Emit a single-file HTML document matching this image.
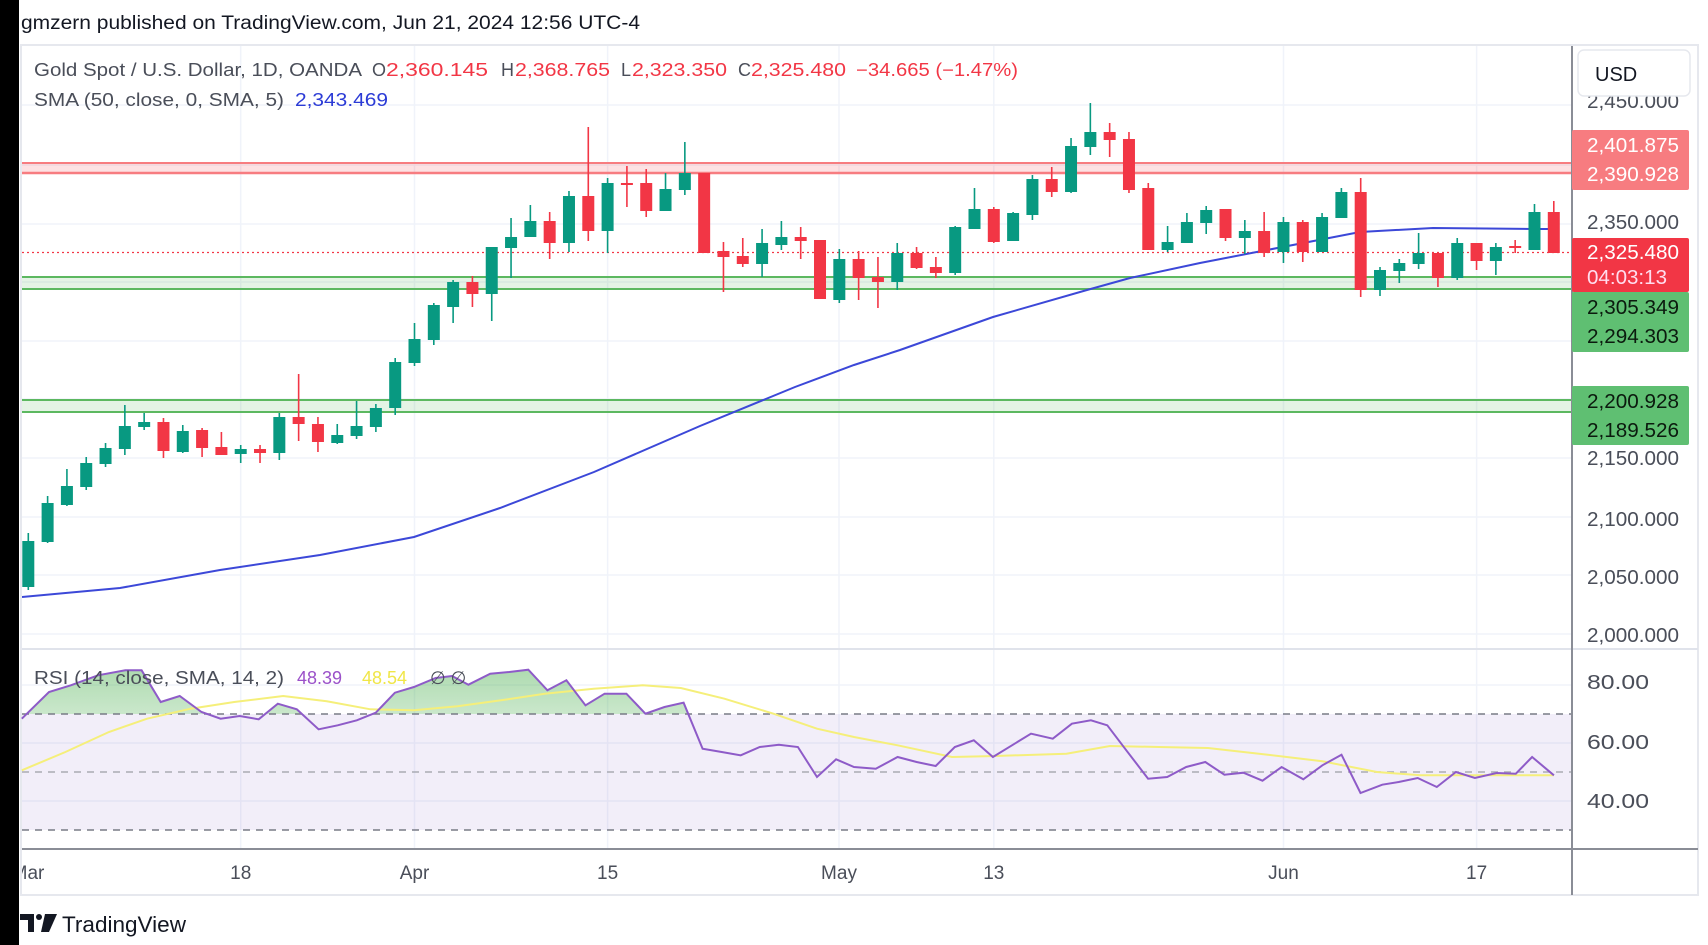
<!DOCTYPE html>
<html><head><meta charset="utf-8"><style>
html,body{margin:0;padding:0;background:#fff;width:1708px;height:945px;overflow:hidden}
svg{display:block;font-family:"Liberation Sans",sans-serif}
</style></head><body>
<svg id="s" width="1708" height="945" viewBox="0 0 1708 945" xmlns="http://www.w3.org/2000/svg">
<defs>
<linearGradient id="gg" x1="0" y1="0" x2="0" y2="1"><stop offset="0" stop-color="#4caf50" stop-opacity="0.45"/><stop offset="1" stop-color="#4caf50" stop-opacity="0.02"/></linearGradient>
<clipPath id="ob"><rect x="22" y="640" width="1550" height="74"/></clipPath>
<clipPath id="plot"><rect x="22" y="46" width="1550" height="602"/></clipPath>
<clipPath id="tax"><rect x="22" y="850" width="1550" height="45"/></clipPath>
</defs>
<rect x="0" y="0" width="1708" height="945" fill="#fff"/>
<rect x="0" y="0" width="19" height="945" fill="#000"/>
<text x="21" y="29" font-size="19" fill="#131722" textLength="619" lengthAdjust="spacingAndGlyphs">gmzern published on TradingView.com, Jun 21, 2024 12:56 UTC-4</text>
<rect x="21" y="45" width="1677" height="850" fill="#fff" stroke="#e6e8ee" stroke-width="2"/>
<g id="grid" stroke="#f0f3fa" stroke-width="1.5"></g>
<rect x="22" y="714" width="1550" height="116" fill="#7e57c2" fill-opacity="0.1"/>
<g id="zones"></g>
<g id="main" clip-path="url(#plot)"></g>
<g id="rsi"></g>
<line x1="22" y1="649" x2="1698" y2="649" stroke="#e0e3eb" stroke-width="2"/>
<line x1="22" y1="849" x2="1698" y2="849" stroke="#8a8d96" stroke-width="2"/>
<line x1="1572" y1="46" x2="1572" y2="895" stroke="#8a8d96" stroke-width="2"/>
<g id="tlab" font-size="19" fill="#4a4e59" text-anchor="middle" clip-path="url(#tax)"></g>
<g font-size="20" fill="#4a4e59">
<text x="1587" y="108" textLength="92" lengthAdjust="spacingAndGlyphs">2,450.000</text>
<rect x="1578" y="50" width="112" height="46" rx="6" fill="#fff" stroke="#e6e8ee" stroke-width="1.5"/>
<text x="1595" y="81" fill="#131722">USD</text>
<text x="1587" y="229" textLength="92" lengthAdjust="spacingAndGlyphs">2,350.000</text>
<text x="1587" y="465" textLength="92" lengthAdjust="spacingAndGlyphs">2,150.000</text>
<text x="1587" y="526" textLength="92" lengthAdjust="spacingAndGlyphs">2,100.000</text>
<text x="1587" y="584" textLength="92" lengthAdjust="spacingAndGlyphs">2,050.000</text>
<text x="1587" y="642" textLength="92" lengthAdjust="spacingAndGlyphs">2,000.000</text>
<text x="1587" y="689" textLength="62" lengthAdjust="spacingAndGlyphs">80.00</text>
<text x="1587" y="749" textLength="62" lengthAdjust="spacingAndGlyphs">60.00</text>
<text x="1587" y="808" textLength="62" lengthAdjust="spacingAndGlyphs">40.00</text>
<rect x="1572" y="130" width="117" height="60" rx="2" fill="#f77c80"/>
<text x="1587" y="152" fill="#fff" textLength="92" lengthAdjust="spacingAndGlyphs">2,401.875</text>
<text x="1587" y="181" fill="#fff" textLength="92" lengthAdjust="spacingAndGlyphs">2,390.928</text>
<rect x="1572" y="238" width="117" height="54" rx="2" fill="#f23645"/>
<text x="1587" y="259" fill="#fff" textLength="92" lengthAdjust="spacingAndGlyphs">2,325.480</text>
<text x="1587" y="284" fill="#fde" textLength="80" lengthAdjust="spacingAndGlyphs">04:03:13</text>
<rect x="1572" y="292" width="117" height="60" rx="2" fill="#5fbf72"/>
<text x="1587" y="314" fill="#0b1a0e" textLength="92" lengthAdjust="spacingAndGlyphs">2,305.349</text>
<text x="1587" y="343" fill="#0b1a0e" textLength="92" lengthAdjust="spacingAndGlyphs">2,294.303</text>
<rect x="1572" y="386" width="117" height="59" rx="2" fill="#5fbf72"/>
<text x="1587" y="408" fill="#0b1a0e" textLength="92" lengthAdjust="spacingAndGlyphs">2,200.928</text>
<text x="1587" y="437" fill="#0b1a0e" textLength="92" lengthAdjust="spacingAndGlyphs">2,189.526</text>
</g>
<g font-size="18">
<text x="34" y="76" fill="#4a4e59" textLength="328" lengthAdjust="spacingAndGlyphs">Gold Spot / U.S. Dollar, 1D, OANDA</text>
<text x="372" y="76" fill="#4a4e59">O</text><text x="386" y="76" fill="#f23645" textLength="102" lengthAdjust="spacingAndGlyphs">2,360.145</text>
<text x="501" y="76" fill="#4a4e59">H</text><text x="515" y="76" fill="#f23645" textLength="95" lengthAdjust="spacingAndGlyphs">2,368.765</text>
<text x="621" y="76" fill="#4a4e59">L</text><text x="632" y="76" fill="#f23645" textLength="95" lengthAdjust="spacingAndGlyphs">2,323.350</text>
<text x="738" y="76" fill="#4a4e59">C</text><text x="751" y="76" fill="#f23645" textLength="95" lengthAdjust="spacingAndGlyphs">2,325.480</text>
<text x="856" y="76" fill="#f23645" textLength="162" lengthAdjust="spacingAndGlyphs">−34.665 (−1.47%)</text>
<text x="34" y="106" fill="#4a4e59" textLength="250" lengthAdjust="spacingAndGlyphs">SMA (50, close, 0, SMA, 5)</text>
<text x="295" y="106" fill="#2b3bd6" textLength="93" lengthAdjust="spacingAndGlyphs">2,343.469</text>
<text x="34" y="684" fill="#4a4e59" textLength="250" lengthAdjust="spacingAndGlyphs">RSI (14, close, SMA, 14, 2)</text>
<text x="297" y="684" fill="#9b51c9">48.39</text>
<text x="362" y="684" fill="#f0e648">48.54</text>
<text x="430" y="684" fill="#4a4e59">∅ ∅</text>
</g>
<g transform="translate(20,914)">
<path d="M0 0 H14 V18 H8 V6 H0 Z" fill="#131722"/>
<circle cx="19" cy="3" r="3" fill="#131722"/>
<path d="M25 0 H37 L29 18 H21 Z" fill="#131722"/>
</g>
<text x="62" y="932" font-size="22" fill="#131722" textLength="124" lengthAdjust="spacingAndGlyphs">TradingView</text>
</svg>
<script>
var NS="http://www.w3.org/2000/svg";
function el(p,t,a){var e=document.createElementNS(NS,t);for(var k in a)e.setAttribute(k,a[k]);document.getElementById(p).appendChild(e);return e;}
[105,165,224,282,341,399,458,517,575,634,685,743,801].forEach(function(y){el("grid","line",{x1:22,y1:y,x2:1572,y2:y});});
var vx=[240.7,414.5,607.6,839,993.8,1283.5,1476.6];
vx.forEach(function(x){el("grid","line",{x1:x,y1:46,x2:x,y2:849});});
var tl=[[28,"Mar"],[240.7,"18"],[414.5,"Apr"],[607.6,"15"],[839,"May"],[993.8,"13"],[1283.5,"Jun"],[1476.6,"17"]];
tl.forEach(function(t){var e=el("tlab","text",{x:t[0],y:879});e.textContent=t[1];});
el("zones","rect",{x:22,y:163,width:1550,height:10,fill:"#f23645","fill-opacity":0.15});
el("zones","line",{x1:22,y1:163,x2:1572,y2:163,stroke:"#f77c80","stroke-width":2});
el("zones","line",{x1:22,y1:173,x2:1572,y2:173,stroke:"#f77c80","stroke-width":2.5});
[[277,289],[400,412]].forEach(function(z){
el("zones","rect",{x:22,y:z[0],width:1550,height:z[1]-z[0],fill:"#4caf50","fill-opacity":0.15});
el("zones","line",{x1:22,y1:z[0],x2:1572,y2:z[0],stroke:"#5cb860","stroke-width":2});
el("zones","line",{x1:22,y1:z[1],x2:1572,y2:z[1],stroke:"#5cb860","stroke-width":2});});
el("zones","line",{x1:22,y1:252.5,x2:1572,y2:252.5,stroke:"#f23645","stroke-width":1.3,"stroke-dasharray":"2 3"});
var sma=[[22,597],[120,588],[220,570],[320,555],[414,537],[500,508],[594,472],[700,426],[795,387],[854,365],[900,350],[993,317],[1087,290],[1130,278],[1200,263],[1267,250],[1360,232],[1433,228],[1533,229],[1548,229]];
el("main","polyline",{points:sma.map(function(p){return p.join(",")}).join(" "),fill:"none",stroke:"#3c48d8","stroke-width":2});
var C=[
["g",541,587,533,590],["g",503,542,496,543],["g",486,505,469,506],["g",463,487,457,490],["g",448,464,443,467],
["g",426,449,405,455],["g",422,427,413,430],["r",422,451,418,458],["g",431,452,425,453],["r",430,448,428,457],
["r",447,455,432,455],["g",449,454,445,463],["r",449,453,445,463],["g",417,453,413,460],["r",417,424,374,441],
["r",424,442,417,452],["g",435,443,424,444],["g",426,436,401,439],["g",408,427,404,432],["g",362,408,358,415],
["g",339,363,323,366],["g",305,340,303,345],["g",282,307,280,323],["r",282,294,276,307],["g",247,294,247,321],
["g",237,248,218,278],["g",221,237,205,237],["r",221,243,212,259],["g",196,243,191,252],["r",196,231,127,241],
["g",183,231,178,253],["r",183,185,166,207],["r",183,211,169,217],["g",189,211,173,211],["g",173,190,142,195],
["r",173,253,173,253],["r",251,257,242,292],["r",256,264,238,267],["g",243,264,229,277],["g",237,245,221,250],
["r",237,241,227,259],["r",240,299,240,299],["g",259,300,249,303],["r",259,278,251,300],["r",277,282,257,308],
["g",253,282,243,290],["r",253,268,247,269],["r",267,273,257,278],["g",227,273,226,275],["g",209,229,188,229],
["r",209,242,207,243],["g",213,241,212,241],["g",179,215,175,220],["r",179,192,167,197],["g",146,192,138,193],
["g",132,147,103,155],["r",132,140,123,157],["r",139,190,132,193],["r",188,250,183,250],["g",242,250,226,252],
["g",222,243,213,243],["g",210,223,206,234],["r",209,238,209,241],["g",231,238,220,254],["r",231,253,212,257],
["g",222,252,217,263],["r",222,252,220,262],["g",217,252,213,252],["g",192,218,188,218],["r",192,290,178,297],
["g",270,290,267,296],["g",263,271,259,283],["g",253,264,233,269],["r",253,278,253,287],["g",243,278,238,280],
["r",243,261,243,270],["g",247,261,243,275],["r",246,248,240,253],["g",212,250,204,250],["r",212,253,201,253]];
C.forEach(function(c,i){var x=28.3+19.31*i;var col=c[0]=="g"?"#089981":"#f23645";
el("main","line",{x1:x,y1:c[3],x2:x,y2:c[4],stroke:col,"stroke-width":1.6});
var h=Math.max(c[2]-c[1],2);el("main","rect",{x:x-6,y:c[1],width:12,height:h,fill:col});});
function cv(pts,off){return pts.map(function(p){return [(off+p[0]/1.836).toFixed(1),(472+p[1]/3).toFixed(1)];});}
var r1=cv([[40,740],[90,660],[130,640],[180,610],[230,595],[260,595],[295,690],[330,672],[370,720],[405,740],[440,732],[475,742],[510,695],[545,712],[585,772],[620,760],[655,745],[690,722],[725,662],[760,645],[800,618],[830,612],[860,638],[900,605],[935,600],[970,593],[1005,655],[1040,625],[1075,700],[1110,665],[1150,665],[1185,725],[1220,705],[1255,692],[1290,830],[1325,840],[1360,850],[1395,825],[1430,818],[1465,825],[1500,915],[1535,862]],0)
.concat(cv([[0,885],[40,890],[80,855],[115,870],[150,882],[185,825],[220,805],[255,855],[290,820],[325,785],[365,800],[400,755],[435,745],[465,760],[500,835],[540,920],[575,915],[610,885],[645,870],[680,908],[715,902],[750,926],[785,885],[825,922],[860,880],[895,848],[930,963],[970,938],[1000,930],[1035,918],[1070,945],[1105,900],[1140,918],[1180,903],[1215,905],[1245,855],[1285,910]],854));
var r1s=r1.map(function(p){return p.join(",")}).join(" ");
el("rsi","polygon",{points:r1[0][0]+",714 "+r1s+" "+r1[r1.length-1][0]+",714",fill:"url(#gg)","clip-path":"url(#ob)"});
[714,772,830].forEach(function(y){el("rsi","line",{x1:22,y1:y,x2:1572,y2:y,stroke:y==772?"#a9abb3":"#787b86","stroke-width":1.6,"stroke-dasharray":"7 6"});});
var y1=cv([[40,895],[120,840],[200,780],[270,740],[350,710],[430,690],[520,672],[600,688],[680,712],[760,715],[840,703],[920,685],[1000,665],[1090,650],[1180,640],[1250,648],[1330,680],[1420,725],[1500,770],[1568,795]],0)
.concat(cv([[80,820],[180,855],[260,852],[390,845],[470,822],[560,825],[650,828],[760,848],[860,868],[960,900],[1040,910],[1140,910],[1285,910]],854));
el("rsi","polyline",{points:y1.map(function(p){return p.join(",")}).join(" "),fill:"none",stroke:"#f5ef7a","stroke-width":2});
el("rsi","polyline",{points:r1s,fill:"none",stroke:"#8e5bc8","stroke-width":2});
</script>
</body></html>
